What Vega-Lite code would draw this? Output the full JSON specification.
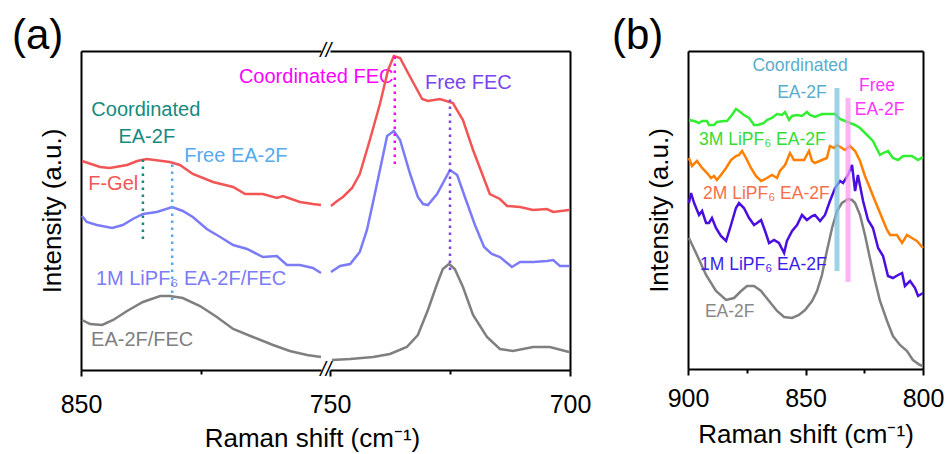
{
  "$schema": "https://vega.github.io/schema/vega-lite/v6.json",
  "background": "white",
  "padding": {"left": 12, "top": 15, "right": 5, "bottom": 0},
  "config": {
    "view": {"stroke": null},
    "font": "Liberation Sans",
    "axis": {"domainColor": "black", "domainWidth": 2, "tickColor": "black", "tickWidth": 2, "labelColor": "black", "labelFontSize": 25, "labelFont": "Liberation Sans", "titleColor": "black", "titleFontSize": 26, "titleFontWeight": "normal", "titleFont": "Liberation Sans", "grid": false, "labelOverlap": false},
    "title": {"font": "Liberation Sans", "fontWeight": "normal", "color": "black"},
    "text": {"font": "Liberation Sans"}
  },
  "resolve": {"scale": {"color": "independent"}},
  "datasets": {
    "aL": [
      {"series": "F-Gel", "shift": 849.8, "intensity": 209}, {"series": "F-Gel", "shift": 846.0, "intensity": 203}, {"series": "F-Gel", "shift": 844.0, "intensity": 202}, {"series": "F-Gel", "shift": 840.4, "intensity": 205}, {"series": "F-Gel", "shift": 838.3, "intensity": 209}, {"series": "F-Gel", "shift": 836.3, "intensity": 211}, {"series": "F-Gel", "shift": 831.5, "intensity": 208}, {"series": "F-Gel", "shift": 829.4, "intensity": 205}, {"series": "F-Gel", "shift": 826.7, "intensity": 196}, {"series": "F-Gel", "shift": 822.5, "intensity": 188}, {"series": "F-Gel", "shift": 818.3, "intensity": 183}, {"series": "F-Gel", "shift": 815.8, "intensity": 176}, {"series": "F-Gel", "shift": 812.1, "intensity": 176}, {"series": "F-Gel", "shift": 809.2, "intensity": 172}, {"series": "F-Gel", "shift": 807.9, "intensity": 174}, {"series": "F-Gel", "shift": 804.4, "intensity": 168}, {"series": "F-Gel", "shift": 801.7, "intensity": 166}, {"series": "F-Gel", "shift": 800.0, "intensity": 165},
      {"series": "1M", "shift": 849.8, "intensity": 154}, {"series": "1M", "shift": 848.8, "intensity": 148}, {"series": "1M", "shift": 846.7, "intensity": 145}, {"series": "1M", "shift": 843.5, "intensity": 142}, {"series": "1M", "shift": 841.3, "intensity": 145}, {"series": "1M", "shift": 839.2, "intensity": 151}, {"series": "1M", "shift": 837.1, "intensity": 156}, {"series": "1M", "shift": 834.2, "intensity": 158}, {"series": "1M", "shift": 831.0, "intensity": 163}, {"series": "1M", "shift": 828.8, "intensity": 159}, {"series": "1M", "shift": 826.7, "intensity": 153}, {"series": "1M", "shift": 823.8, "intensity": 141}, {"series": "1M", "shift": 821.0, "intensity": 133}, {"series": "1M", "shift": 818.3, "intensity": 125}, {"series": "1M", "shift": 815.4, "intensity": 121}, {"series": "1M", "shift": 812.1, "intensity": 113}, {"series": "1M", "shift": 809.2, "intensity": 114}, {"series": "1M", "shift": 807.1, "intensity": 105}, {"series": "1M", "shift": 804.4, "intensity": 105}, {"series": "1M", "shift": 801.7, "intensity": 102}, {"series": "1M", "shift": 800.0, "intensity": 97},
      {"series": "EA-2F/FEC", "shift": 849.8, "intensity": 50}, {"series": "EA-2F/FEC", "shift": 848.1, "intensity": 46}, {"series": "EA-2F/FEC", "shift": 845.6, "intensity": 45}, {"series": "EA-2F/FEC", "shift": 843.3, "intensity": 50}, {"series": "EA-2F/FEC", "shift": 840.4, "intensity": 59}, {"series": "EA-2F/FEC", "shift": 837.1, "intensity": 68}, {"series": "EA-2F/FEC", "shift": 833.5, "intensity": 74}, {"series": "EA-2F/FEC", "shift": 831.5, "intensity": 74}, {"series": "EA-2F/FEC", "shift": 828.8, "intensity": 72}, {"series": "EA-2F/FEC", "shift": 825.2, "intensity": 64}, {"series": "EA-2F/FEC", "shift": 821.7, "intensity": 53}, {"series": "EA-2F/FEC", "shift": 818.3, "intensity": 41}, {"series": "EA-2F/FEC", "shift": 814.2, "intensity": 33}, {"series": "EA-2F/FEC", "shift": 810.0, "intensity": 25}, {"series": "EA-2F/FEC", "shift": 806.5, "intensity": 19}, {"series": "EA-2F/FEC", "shift": 802.9, "intensity": 15}, {"series": "EA-2F/FEC", "shift": 800.0, "intensity": 13}
    ],
    "aR": [
      {"series": "F-Gel", "shift": 749.8, "intensity": 164}, {"series": "F-Gel", "shift": 748.5, "intensity": 169}, {"series": "F-Gel", "shift": 747.3, "intensity": 173}, {"series": "F-Gel", "shift": 745.4, "intensity": 182}, {"series": "F-Gel", "shift": 743.8, "intensity": 196}, {"series": "F-Gel", "shift": 741.7, "intensity": 230}, {"series": "F-Gel", "shift": 739.6, "intensity": 266}, {"series": "F-Gel", "shift": 737.9, "intensity": 300}, {"series": "F-Gel", "shift": 736.7, "intensity": 314}, {"series": "F-Gel", "shift": 735.4, "intensity": 312}, {"series": "F-Gel", "shift": 733.3, "intensity": 293}, {"series": "F-Gel", "shift": 730.8, "intensity": 271}, {"series": "F-Gel", "shift": 729.6, "intensity": 269}, {"series": "F-Gel", "shift": 727.1, "intensity": 271}, {"series": "F-Gel", "shift": 724.4, "intensity": 267}, {"series": "F-Gel", "shift": 722.3, "intensity": 250}, {"series": "F-Gel", "shift": 720.2, "intensity": 220}, {"series": "F-Gel", "shift": 716.7, "intensity": 176}, {"series": "F-Gel", "shift": 714.6, "intensity": 171}, {"series": "F-Gel", "shift": 713.1, "intensity": 164}, {"series": "F-Gel", "shift": 710.4, "intensity": 163}, {"series": "F-Gel", "shift": 707.7, "intensity": 160}, {"series": "F-Gel", "shift": 704.8, "intensity": 161}, {"series": "F-Gel", "shift": 703.5, "intensity": 158}, {"series": "F-Gel", "shift": 700.2, "intensity": 160},
      {"series": "1M", "shift": 749.8, "intensity": 98}, {"series": "1M", "shift": 747.9, "intensity": 104}, {"series": "1M", "shift": 745.8, "intensity": 106}, {"series": "1M", "shift": 743.8, "intensity": 118}, {"series": "1M", "shift": 742.3, "intensity": 140}, {"series": "1M", "shift": 740.8, "intensity": 173}, {"series": "1M", "shift": 739.6, "intensity": 200}, {"series": "1M", "shift": 738.1, "intensity": 234}, {"series": "1M", "shift": 736.7, "intensity": 239}, {"series": "1M", "shift": 735.4, "intensity": 230}, {"series": "1M", "shift": 733.3, "intensity": 196}, {"series": "1M", "shift": 731.7, "intensity": 173}, {"series": "1M", "shift": 730.6, "intensity": 166}, {"series": "1M", "shift": 729.6, "intensity": 165}, {"series": "1M", "shift": 727.7, "intensity": 176}, {"series": "1M", "shift": 725.0, "intensity": 200}, {"series": "1M", "shift": 723.5, "intensity": 195}, {"series": "1M", "shift": 721.9, "intensity": 173}, {"series": "1M", "shift": 719.8, "intensity": 145}, {"series": "1M", "shift": 717.9, "intensity": 123}, {"series": "1M", "shift": 716.3, "intensity": 116}, {"series": "1M", "shift": 714.6, "intensity": 113}, {"series": "1M", "shift": 712.1, "intensity": 103}, {"series": "1M", "shift": 710.4, "intensity": 108}, {"series": "1M", "shift": 707.7, "intensity": 108}, {"series": "1M", "shift": 704.8, "intensity": 109}, {"series": "1M", "shift": 703.5, "intensity": 110}, {"series": "1M", "shift": 702.1, "intensity": 104}, {"series": "1M", "shift": 700.2, "intensity": 104},
      {"series": "EA-2F/FEC", "shift": 749.6, "intensity": 10}, {"series": "EA-2F/FEC", "shift": 745.8, "intensity": 11}, {"series": "EA-2F/FEC", "shift": 741.0, "intensity": 13}, {"series": "EA-2F/FEC", "shift": 737.5, "intensity": 16}, {"series": "EA-2F/FEC", "shift": 734.0, "intensity": 23}, {"series": "EA-2F/FEC", "shift": 731.7, "intensity": 35}, {"series": "EA-2F/FEC", "shift": 729.6, "intensity": 60}, {"series": "EA-2F/FEC", "shift": 727.7, "intensity": 86}, {"series": "EA-2F/FEC", "shift": 726.5, "intensity": 101}, {"series": "EA-2F/FEC", "shift": 725.2, "intensity": 106}, {"series": "EA-2F/FEC", "shift": 724.0, "intensity": 101}, {"series": "EA-2F/FEC", "shift": 722.3, "intensity": 83}, {"series": "EA-2F/FEC", "shift": 720.2, "intensity": 55}, {"series": "EA-2F/FEC", "shift": 717.3, "intensity": 33}, {"series": "EA-2F/FEC", "shift": 714.6, "intensity": 21}, {"series": "EA-2F/FEC", "shift": 711.9, "intensity": 19}, {"series": "EA-2F/FEC", "shift": 707.7, "intensity": 23}, {"series": "EA-2F/FEC", "shift": 704.2, "intensity": 23}, {"series": "EA-2F/FEC", "shift": 700.2, "intensity": 18}
    ],
    "aL_marks": [
      {"series": "Coordinated EA-2F", "shift": 837.1, "y1": 131, "y2": 215},
      {"series": "Free EA-2F", "shift": 831.0, "y1": 70, "y2": 210}
    ],
    "aR_marks": [
      {"series": "Coordinated FEC", "shift": 736.5, "y1": 206, "y2": 316},
      {"series": "Free FEC", "shift": 725.0, "y1": 100, "y2": 271}
    ],
    "aL_text_left": [
      {"series": "F-Gel", "label": "F-Gel", "shift": 848.5, "intensity": 186},
      {"series": "1M", "label": "1M LiPF₆ EA-2F/FEC", "shift": 846.9, "intensity": 91},
      {"series": "EA-2F/FEC", "label": "EA-2F/FEC", "shift": 847.9, "intensity": 30},
      {"series": "Free EA-2F", "label": "Free EA-2F", "shift": 828.5, "intensity": 214},
      {"series": "Coordinated FEC", "label": "Coordinated FEC", "shift": 817.1, "intensity": 293}
    ],
    "aL_text_center": [
      {"series": "Coordinated EA-2F", "label": "Coordinated", "shift": 836.5, "intensity": 260},
      {"series": "Coordinated EA-2F", "label": "EA-2F", "shift": 836.3, "intensity": 233}
    ],
    "aR_text_left": [
      {"series": "Free FEC", "label": "Free FEC", "shift": 730.2, "intensity": 287}
    ],
    "breaks": [
      {"shift": 799, "intensity": 319},
      {"shift": 799, "intensity": 0}
    ],
    "b": [
      {"series": "3M", "shift": 899.6, "intensity": 249}, {"series": "3M", "shift": 897.4, "intensity": 248}, {"series": "3M", "shift": 895.3, "intensity": 246}, {"series": "3M", "shift": 894.0, "intensity": 248}, {"series": "3M", "shift": 891.9, "intensity": 248}, {"series": "3M", "shift": 891.1, "intensity": 244}, {"series": "3M", "shift": 888.9, "intensity": 244}, {"series": "3M", "shift": 887.7, "intensity": 247}, {"series": "3M", "shift": 884.7, "intensity": 248}, {"series": "3M", "shift": 883.4, "intensity": 248}, {"series": "3M", "shift": 881.3, "intensity": 254}, {"series": "3M", "shift": 879.6, "intensity": 260}, {"series": "3M", "shift": 878.3, "intensity": 258}, {"series": "3M", "shift": 876.2, "intensity": 254}, {"series": "3M", "shift": 874.0, "intensity": 251}, {"series": "3M", "shift": 871.9, "intensity": 244}, {"series": "3M", "shift": 870.2, "intensity": 244}, {"series": "3M", "shift": 867.7, "intensity": 246}, {"series": "3M", "shift": 866.4, "intensity": 249}, {"series": "3M", "shift": 864.3, "intensity": 251}, {"series": "3M", "shift": 862.1, "intensity": 255}, {"series": "3M", "shift": 860.0, "intensity": 254}, {"series": "3M", "shift": 858.7, "intensity": 257}, {"series": "3M", "shift": 857.0, "intensity": 249}, {"series": "3M", "shift": 855.7, "intensity": 253}, {"series": "3M", "shift": 853.6, "intensity": 254}, {"series": "3M", "shift": 851.5, "intensity": 253}, {"series": "3M", "shift": 849.4, "intensity": 257}, {"series": "3M", "shift": 848.1, "intensity": 254}, {"series": "3M", "shift": 846.0, "intensity": 252}, {"series": "3M", "shift": 843.0, "intensity": 255}, {"series": "3M", "shift": 840.0, "intensity": 255}, {"series": "3M", "shift": 837.4, "intensity": 255}, {"series": "3M", "shift": 835.3, "intensity": 250}, {"series": "3M", "shift": 833.2, "intensity": 248}, {"series": "3M", "shift": 831.1, "intensity": 246}, {"series": "3M", "shift": 828.9, "intensity": 244}, {"series": "3M", "shift": 826.8, "intensity": 241}, {"series": "3M", "shift": 823.8, "intensity": 234}, {"series": "3M", "shift": 821.3, "intensity": 228}, {"series": "3M", "shift": 818.3, "intensity": 214}, {"series": "3M", "shift": 817.0, "intensity": 216}, {"series": "3M", "shift": 814.9, "intensity": 218}, {"series": "3M", "shift": 812.8, "intensity": 211}, {"series": "3M", "shift": 810.6, "intensity": 209}, {"series": "3M", "shift": 808.5, "intensity": 213}, {"series": "3M", "shift": 804.7, "intensity": 213}, {"series": "3M", "shift": 802.1, "intensity": 209}, {"series": "3M", "shift": 800.0, "intensity": 212},
      {"series": "2M", "shift": 899.6, "intensity": 211}, {"series": "2M", "shift": 898.3, "intensity": 203}, {"series": "2M", "shift": 896.2, "intensity": 208}, {"series": "2M", "shift": 894.0, "intensity": 201}, {"series": "2M", "shift": 891.9, "intensity": 196}, {"series": "2M", "shift": 890.2, "intensity": 191}, {"series": "2M", "shift": 888.9, "intensity": 193}, {"series": "2M", "shift": 887.7, "intensity": 189}, {"series": "2M", "shift": 886.0, "intensity": 194}, {"series": "2M", "shift": 883.8, "intensity": 201}, {"series": "2M", "shift": 881.7, "intensity": 209}, {"series": "2M", "shift": 879.6, "intensity": 213}, {"series": "2M", "shift": 878.3, "intensity": 214}, {"series": "2M", "shift": 877.0, "intensity": 218}, {"series": "2M", "shift": 875.3, "intensity": 211}, {"series": "2M", "shift": 873.2, "intensity": 201}, {"series": "2M", "shift": 871.1, "intensity": 193}, {"series": "2M", "shift": 868.9, "intensity": 188}, {"series": "2M", "shift": 866.4, "intensity": 191}, {"series": "2M", "shift": 864.3, "intensity": 194}, {"series": "2M", "shift": 862.1, "intensity": 191}, {"series": "2M", "shift": 860.9, "intensity": 198}, {"series": "2M", "shift": 858.7, "intensity": 204}, {"series": "2M", "shift": 856.6, "intensity": 216}, {"series": "2M", "shift": 854.9, "intensity": 209}, {"series": "2M", "shift": 852.8, "intensity": 209}, {"series": "2M", "shift": 850.6, "intensity": 209}, {"series": "2M", "shift": 848.5, "intensity": 218}, {"series": "2M", "shift": 847.2, "intensity": 208}, {"series": "2M", "shift": 846.0, "intensity": 206}, {"series": "2M", "shift": 843.0, "intensity": 209}, {"series": "2M", "shift": 840.9, "intensity": 211}, {"series": "2M", "shift": 839.6, "intensity": 223}, {"series": "2M", "shift": 837.9, "intensity": 221}, {"series": "2M", "shift": 836.6, "intensity": 224}, {"series": "2M", "shift": 834.5, "intensity": 221}, {"series": "2M", "shift": 833.2, "intensity": 219}, {"series": "2M", "shift": 831.1, "intensity": 223}, {"series": "2M", "shift": 828.9, "intensity": 218}, {"series": "2M", "shift": 826.8, "intensity": 208}, {"series": "2M", "shift": 824.7, "intensity": 193}, {"series": "2M", "shift": 822.6, "intensity": 181}, {"series": "2M", "shift": 820.4, "intensity": 168}, {"series": "2M", "shift": 817.4, "intensity": 151}, {"series": "2M", "shift": 815.3, "intensity": 139}, {"series": "2M", "shift": 814.0, "intensity": 134}, {"series": "2M", "shift": 811.1, "intensity": 134}, {"series": "2M", "shift": 808.9, "intensity": 126}, {"series": "2M", "shift": 806.8, "intensity": 134}, {"series": "2M", "shift": 804.7, "intensity": 131}, {"series": "2M", "shift": 802.6, "intensity": 128}, {"series": "2M", "shift": 800.0, "intensity": 121},
      {"series": "1M", "shift": 899.6, "intensity": 166}, {"series": "1M", "shift": 898.7, "intensity": 176}, {"series": "1M", "shift": 897.4, "intensity": 166}, {"series": "1M", "shift": 895.3, "intensity": 154}, {"series": "1M", "shift": 894.0, "intensity": 158}, {"series": "1M", "shift": 892.3, "intensity": 146}, {"series": "1M", "shift": 891.1, "intensity": 146}, {"series": "1M", "shift": 889.8, "intensity": 151}, {"series": "1M", "shift": 888.1, "intensity": 141}, {"series": "1M", "shift": 886.0, "intensity": 133}, {"series": "1M", "shift": 883.8, "intensity": 128}, {"series": "1M", "shift": 881.7, "intensity": 144}, {"series": "1M", "shift": 879.6, "intensity": 161}, {"series": "1M", "shift": 878.3, "intensity": 166}, {"series": "1M", "shift": 876.2, "intensity": 161}, {"series": "1M", "shift": 874.0, "intensity": 151}, {"series": "1M", "shift": 871.9, "intensity": 144}, {"series": "1M", "shift": 870.6, "intensity": 146}, {"series": "1M", "shift": 868.9, "intensity": 149}, {"series": "1M", "shift": 867.2, "intensity": 138}, {"series": "1M", "shift": 865.5, "intensity": 126}, {"series": "1M", "shift": 863.4, "intensity": 129}, {"series": "1M", "shift": 861.3, "intensity": 126}, {"series": "1M", "shift": 859.1, "intensity": 116}, {"series": "1M", "shift": 857.9, "intensity": 128}, {"series": "1M", "shift": 855.7, "intensity": 138}, {"series": "1M", "shift": 853.6, "intensity": 144}, {"series": "1M", "shift": 851.5, "intensity": 154}, {"series": "1M", "shift": 849.4, "intensity": 149}, {"series": "1M", "shift": 847.2, "intensity": 153}, {"series": "1M", "shift": 846.0, "intensity": 154}, {"series": "1M", "shift": 843.8, "intensity": 148}, {"series": "1M", "shift": 841.7, "intensity": 154}, {"series": "1M", "shift": 839.6, "intensity": 168}, {"series": "1M", "shift": 837.4, "intensity": 181}, {"series": "1M", "shift": 835.3, "intensity": 188}, {"series": "1M", "shift": 834.0, "intensity": 186}, {"series": "1M", "shift": 831.9, "intensity": 194}, {"series": "1M", "shift": 830.2, "intensity": 204}, {"series": "1M", "shift": 828.9, "intensity": 178}, {"series": "1M", "shift": 827.7, "intensity": 194}, {"series": "1M", "shift": 825.5, "intensity": 168}, {"series": "1M", "shift": 823.4, "intensity": 149}, {"series": "1M", "shift": 821.3, "intensity": 141}, {"series": "1M", "shift": 819.1, "intensity": 121}, {"series": "1M", "shift": 817.0, "intensity": 113}, {"series": "1M", "shift": 814.9, "intensity": 93}, {"series": "1M", "shift": 812.8, "intensity": 91}, {"series": "1M", "shift": 810.6, "intensity": 94}, {"series": "1M", "shift": 808.9, "intensity": 96}, {"series": "1M", "shift": 807.7, "intensity": 83}, {"series": "1M", "shift": 805.5, "intensity": 88}, {"series": "1M", "shift": 803.4, "intensity": 81}, {"series": "1M", "shift": 802.1, "intensity": 73}, {"series": "1M", "shift": 800.0, "intensity": 76},
      {"series": "EA-2F", "shift": 899.6, "intensity": 131}, {"series": "EA-2F", "shift": 896.2, "intensity": 114}, {"series": "EA-2F", "shift": 892.3, "intensity": 94}, {"series": "EA-2F", "shift": 888.1, "intensity": 78}, {"series": "EA-2F", "shift": 883.8, "intensity": 69}, {"series": "EA-2F", "shift": 880.4, "intensity": 71}, {"series": "EA-2F", "shift": 877.4, "intensity": 78}, {"series": "EA-2F", "shift": 874.9, "intensity": 83}, {"series": "EA-2F", "shift": 871.9, "intensity": 83}, {"series": "EA-2F", "shift": 868.9, "intensity": 78}, {"series": "EA-2F", "shift": 865.5, "intensity": 68}, {"series": "EA-2F", "shift": 862.1, "intensity": 58}, {"series": "EA-2F", "shift": 859.1, "intensity": 52}, {"series": "EA-2F", "shift": 855.7, "intensity": 51}, {"series": "EA-2F", "shift": 852.8, "intensity": 54}, {"series": "EA-2F", "shift": 850.2, "intensity": 59}, {"series": "EA-2F", "shift": 847.2, "intensity": 68}, {"series": "EA-2F", "shift": 845.1, "intensity": 78}, {"series": "EA-2F", "shift": 843.0, "intensity": 94}, {"series": "EA-2F", "shift": 840.9, "intensity": 118}, {"series": "EA-2F", "shift": 838.7, "intensity": 141}, {"series": "EA-2F", "shift": 836.6, "intensity": 158}, {"series": "EA-2F", "shift": 834.5, "intensity": 166}, {"series": "EA-2F", "shift": 831.9, "intensity": 170}, {"series": "EA-2F", "shift": 830.2, "intensity": 169}, {"series": "EA-2F", "shift": 828.9, "intensity": 166}, {"series": "EA-2F", "shift": 826.8, "intensity": 154}, {"series": "EA-2F", "shift": 824.7, "intensity": 134}, {"series": "EA-2F", "shift": 822.6, "intensity": 111}, {"series": "EA-2F", "shift": 820.4, "intensity": 88}, {"series": "EA-2F", "shift": 818.3, "intensity": 68}, {"series": "EA-2F", "shift": 815.3, "intensity": 48}, {"series": "EA-2F", "shift": 812.8, "intensity": 33}, {"series": "EA-2F", "shift": 809.8, "intensity": 24}, {"series": "EA-2F", "shift": 806.8, "intensity": 18}, {"series": "EA-2F", "shift": 804.3, "intensity": 9}, {"series": "EA-2F", "shift": 801.3, "intensity": 4}, {"series": "EA-2F", "shift": 800.0, "intensity": 3}
    ],
    "b_bars": [
      {"series": "barC", "shift": 836.6, "y1": 98, "y2": 281},
      {"series": "barF", "shift": 831.9, "y1": 87, "y2": 271}
    ],
    "b_text_left": [
      {"series": "3M label", "label": "3M LiPF₆ EA-2F", "shift": 895.3, "intensity": 229},
      {"series": "2M label", "label": "2M LiPF₆ EA-2F", "shift": 893.6, "intensity": 175},
      {"series": "1M label", "label": "1M LiPF₆ EA-2F", "shift": 894.9, "intensity": 104},
      {"series": "EA-2F label", "label": "EA-2F", "shift": 892.8, "intensity": 57}
    ],
    "b_text_center": [
      {"series": "coord label", "label": "Coordinated", "shift": 852.3, "intensity": 303},
      {"series": "coord label", "label": "EA-2F", "shift": 851.5, "intensity": 276},
      {"series": "free label", "label": "Free", "shift": 819.6, "intensity": 283},
      {"series": "free label", "label": "EA-2F", "shift": 818.5, "intensity": 259}
    ]
  },
  "spacing": 21,
  "hconcat": [
    {
      "bounds": "flush",
      "spacing": 9,
      "title": {"text": "Raman shift (cm⁻¹)", "orient": "bottom", "anchor": "middle", "frame": "bounds", "fontSize": 26, "offset": 9, "dx": 11},
      "hconcat": [
        {
          "width": 240,
          "height": 319,
          "title": {"text": "(a)", "anchor": "start", "frame": "group", "fontSize": 42, "dx": -69, "baseline": "alphabetic", "offset": -50},
          "resolve": {"axis": {"x": "independent", "y": "independent"}},
          "layer": [
            {
              "data": {"name": "aL"},
              "mark": {"type": "line", "strokeWidth": 2.5},
              "encoding": {
                "x": {"field": "shift", "type": "quantitative", "scale": {"domain": [850, 800], "nice": false, "zero": false}, "axis": {"orient": "bottom", "values": [850, 825], "labelExpr": "datum.value % 50 == 0 ? datum.label : ''", "labelFlush": false, "title": null, "tickSize": {"condition": {"test": "datum.value % 50 == 0", "value": 6}, "value": 4}, "labelPadding": 16}},
                "y": {"field": "intensity", "type": "quantitative", "scale": {"domain": [0, 319], "nice": false, "zero": false}, "axis": {"orient": "left", "title": "Intensity (a.u.)", "ticks": false, "labels": false, "titlePadding": 16}},
                "color": {"field": "series", "type": "nominal", "legend": null, "scale": {"domain": ["F-Gel", "1M", "EA-2F/FEC", "Coordinated EA-2F", "Free EA-2F", "Coordinated FEC", "Free FEC"], "range": ["#f25555", "#7b7bf7", "#7f7f7f", "#168a80", "#55aaf0", "#ff00ff", "#7744ee"]}}
              }
            },
            {
              "data": {"name": "aL_marks"},
              "mark": {"type": "rule", "strokeDash": [2.5, 4.5], "strokeWidth": 2.5},
              "encoding": {
                "x": {"field": "shift", "type": "quantitative", "scale": {"domain": [850, 800], "nice": false, "zero": false}, "axis": {"orient": "top", "title": null, "labels": false, "ticks": false}},
                "y": {"field": "y1", "type": "quantitative", "scale": {"domain": [0, 319], "nice": false, "zero": false}, "axis": null},
                "y2": {"field": "y2"},
                "color": {"field": "series", "type": "nominal", "legend": null, "scale": {"domain": ["F-Gel", "1M", "EA-2F/FEC", "Coordinated EA-2F", "Free EA-2F", "Coordinated FEC", "Free FEC"], "range": ["#f25555", "#7b7bf7", "#7f7f7f", "#168a80", "#55aaf0", "#ff00ff", "#7744ee"]}}
              }
            },
            {
              "data": {"name": "aL_text_left"},
              "mark": {"type": "text", "align": "left", "baseline": "middle", "fontSize": 20},
              "encoding": {
                "x": {"field": "shift", "type": "quantitative", "scale": {"domain": [850, 800], "nice": false, "zero": false}, "axis": null},
                "y": {"field": "intensity", "type": "quantitative", "scale": {"domain": [0, 319], "nice": false, "zero": false}, "axis": null},
                "text": {"field": "label"},
                "color": {"field": "series", "type": "nominal", "legend": null, "scale": {"domain": ["F-Gel", "1M", "EA-2F/FEC", "Coordinated EA-2F", "Free EA-2F", "Coordinated FEC", "Free FEC"], "range": ["#f25555", "#7b7bf7", "#7f7f7f", "#168a80", "#55aaf0", "#ff00ff", "#7744ee"]}}
              }
            },
            {
              "data": {"name": "aL_text_center"},
              "mark": {"type": "text", "align": "center", "baseline": "middle", "fontSize": 20},
              "encoding": {
                "x": {"field": "shift", "type": "quantitative", "scale": {"domain": [850, 800], "nice": false, "zero": false}, "axis": null},
                "y": {"field": "intensity", "type": "quantitative", "scale": {"domain": [0, 319], "nice": false, "zero": false}, "axis": null},
                "text": {"field": "label"},
                "color": {"field": "series", "type": "nominal", "legend": null, "scale": {"domain": ["F-Gel", "1M", "EA-2F/FEC", "Coordinated EA-2F", "Free EA-2F", "Coordinated FEC", "Free FEC"], "range": ["#f25555", "#7b7bf7", "#7f7f7f", "#168a80", "#55aaf0", "#ff00ff", "#7744ee"]}}
              }
            },
            {
              "data": {"name": "breaks"},
              "mark": {"type": "text", "align": "center", "baseline": "middle", "fontSize": 20, "fontStyle": "italic", "color": "black", "text": "//"},
              "encoding": {
                "x": {"field": "shift", "type": "quantitative", "scale": {"domain": [850, 800], "nice": false, "zero": false}, "axis": null},
                "y": {"field": "intensity", "type": "quantitative", "scale": {"domain": [0, 319], "nice": false, "zero": false}, "axis": null}
              }
            }
          ]
        },
        {
          "width": 240,
          "height": 319,
          "resolve": {"axis": {"x": "independent", "y": "independent"}},
          "layer": [
            {
              "data": {"name": "aR"},
              "mark": {"type": "line", "strokeWidth": 2.5},
              "encoding": {
                "x": {"field": "shift", "type": "quantitative", "scale": {"domain": [750, 700], "nice": false, "zero": false}, "axis": {"orient": "bottom", "values": [750, 725, 700], "labelExpr": "datum.value % 50 == 0 ? datum.label : ''", "labelFlush": false, "title": null, "tickSize": {"condition": {"test": "datum.value % 50 == 0", "value": 6}, "value": 4}, "labelPadding": 16}},
                "y": {"field": "intensity", "type": "quantitative", "scale": {"domain": [0, 319], "nice": false, "zero": false}, "axis": null},
                "color": {"field": "series", "type": "nominal", "legend": null, "scale": {"domain": ["F-Gel", "1M", "EA-2F/FEC", "Coordinated EA-2F", "Free EA-2F", "Coordinated FEC", "Free FEC"], "range": ["#f25555", "#7b7bf7", "#7f7f7f", "#168a80", "#55aaf0", "#ff00ff", "#7744ee"]}}
              }
            },
            {
              "data": {"name": "aR_marks"},
              "mark": {"type": "rule", "strokeDash": [2.5, 4.5], "strokeWidth": 2.5},
              "encoding": {
                "x": {"field": "shift", "type": "quantitative", "scale": {"domain": [750, 700], "nice": false, "zero": false}, "axis": {"orient": "top", "title": null, "labels": false, "ticks": false}},
                "y": {"field": "y1", "type": "quantitative", "scale": {"domain": [0, 319], "nice": false, "zero": false}, "axis": {"orient": "right", "title": null, "labels": false, "ticks": false}},
                "y2": {"field": "y2"},
                "color": {"field": "series", "type": "nominal", "legend": null, "scale": {"domain": ["F-Gel", "1M", "EA-2F/FEC", "Coordinated EA-2F", "Free EA-2F", "Coordinated FEC", "Free FEC"], "range": ["#f25555", "#7b7bf7", "#7f7f7f", "#168a80", "#55aaf0", "#ff00ff", "#7744ee"]}}
              }
            },
            {
              "data": {"name": "aR_text_left"},
              "mark": {"type": "text", "align": "left", "baseline": "middle", "fontSize": 20},
              "encoding": {
                "x": {"field": "shift", "type": "quantitative", "scale": {"domain": [750, 700], "nice": false, "zero": false}, "axis": null},
                "y": {"field": "intensity", "type": "quantitative", "scale": {"domain": [0, 319], "nice": false, "zero": false}, "axis": null},
                "text": {"field": "label"},
                "color": {"field": "series", "type": "nominal", "legend": null, "scale": {"domain": ["F-Gel", "1M", "EA-2F/FEC", "Coordinated EA-2F", "Free EA-2F", "Coordinated FEC", "Free FEC"], "range": ["#f25555", "#7b7bf7", "#7f7f7f", "#168a80", "#55aaf0", "#ff00ff", "#7744ee"]}}
              }
            }
          ]
        }
      ]
    },
    {
      "width": 235,
      "height": 318,
      "title": {"text": "(b)", "anchor": "start", "frame": "group", "fontSize": 42, "dx": -76, "baseline": "alphabetic", "offset": -40},
      "resolve": {"axis": {"x": "independent", "y": "independent"}},
      "layer": [
        {
          "data": {"name": "b"},
          "mark": {"type": "line", "strokeWidth": 2.5},
          "encoding": {
            "x": {"field": "shift", "type": "quantitative", "scale": {"domain": [900, 800], "nice": false, "zero": false}, "axis": {"orient": "bottom", "values": [900, 875, 850, 825, 800], "labelExpr": "datum.value % 50 == 0 ? datum.label : ''", "labelFlush": false, "title": "Raman shift (cm⁻¹)", "tickSize": {"condition": {"test": "datum.value % 50 == 0", "value": 6}, "value": 4}, "labelPadding": 11, "titlePadding": 10}},
            "y": {"field": "intensity", "type": "quantitative", "scale": {"domain": [0, 318], "nice": false, "zero": false}, "axis": {"orient": "left", "title": "Intensity (a.u.)", "ticks": false, "labels": false, "titlePadding": 16}},
            "color": {"field": "series", "type": "nominal", "legend": null, "scale": {"domain": ["3M", "2M", "1M", "EA-2F", "barC", "barF", "3M label", "2M label", "1M label", "EA-2F label", "coord label", "free label"], "range": ["#33ee33", "#ff8000", "#4a0ee0", "#808080", "#7cc4dc", "#ff99f0", "#33dd33", "#f5704a", "#3a1ee8", "#888888", "#5aaccc", "#ff33ff"]}}
          }
        },
        {
          "data": {"name": "b_bars"},
          "mark": {"type": "rule", "strokeWidth": 5, "opacity": 0.75},
          "encoding": {
            "x": {"field": "shift", "type": "quantitative", "scale": {"domain": [900, 800], "nice": false, "zero": false}, "axis": {"orient": "top", "title": null, "labels": false, "ticks": false}},
            "y": {"field": "y1", "type": "quantitative", "scale": {"domain": [0, 318], "nice": false, "zero": false}, "axis": {"orient": "right", "title": null, "labels": false, "ticks": false}},
            "y2": {"field": "y2"},
            "color": {"field": "series", "type": "nominal", "legend": null, "scale": {"domain": ["3M", "2M", "1M", "EA-2F", "barC", "barF", "3M label", "2M label", "1M label", "EA-2F label", "coord label", "free label"], "range": ["#33ee33", "#ff8000", "#4a0ee0", "#808080", "#7cc4dc", "#ff99f0", "#33dd33", "#f5704a", "#3a1ee8", "#888888", "#5aaccc", "#ff33ff"]}}
          }
        },
        {
          "data": {"name": "b_text_left"},
          "mark": {"type": "text", "align": "left", "baseline": "middle", "fontSize": 17.5},
          "encoding": {
            "x": {"field": "shift", "type": "quantitative", "scale": {"domain": [900, 800], "nice": false, "zero": false}, "axis": null},
            "y": {"field": "intensity", "type": "quantitative", "scale": {"domain": [0, 318], "nice": false, "zero": false}, "axis": null},
            "text": {"field": "label"},
            "color": {"field": "series", "type": "nominal", "legend": null, "scale": {"domain": ["3M", "2M", "1M", "EA-2F", "barC", "barF", "3M label", "2M label", "1M label", "EA-2F label", "coord label", "free label"], "range": ["#33ee33", "#ff8000", "#4a0ee0", "#808080", "#7cc4dc", "#ff99f0", "#33dd33", "#f5704a", "#3a1ee8", "#888888", "#5aaccc", "#ff33ff"]}}
          }
        },
        {
          "data": {"name": "b_text_center"},
          "mark": {"type": "text", "align": "center", "baseline": "middle", "fontSize": 17.5},
          "encoding": {
            "x": {"field": "shift", "type": "quantitative", "scale": {"domain": [900, 800], "nice": false, "zero": false}, "axis": null},
            "y": {"field": "intensity", "type": "quantitative", "scale": {"domain": [0, 318], "nice": false, "zero": false}, "axis": null},
            "text": {"field": "label"},
            "color": {"field": "series", "type": "nominal", "legend": null, "scale": {"domain": ["3M", "2M", "1M", "EA-2F", "barC", "barF", "3M label", "2M label", "1M label", "EA-2F label", "coord label", "free label"], "range": ["#33ee33", "#ff8000", "#4a0ee0", "#808080", "#7cc4dc", "#ff99f0", "#33dd33", "#f5704a", "#3a1ee8", "#888888", "#5aaccc", "#ff33ff"]}}
          }
        }
      ]
    }
  ]
}
